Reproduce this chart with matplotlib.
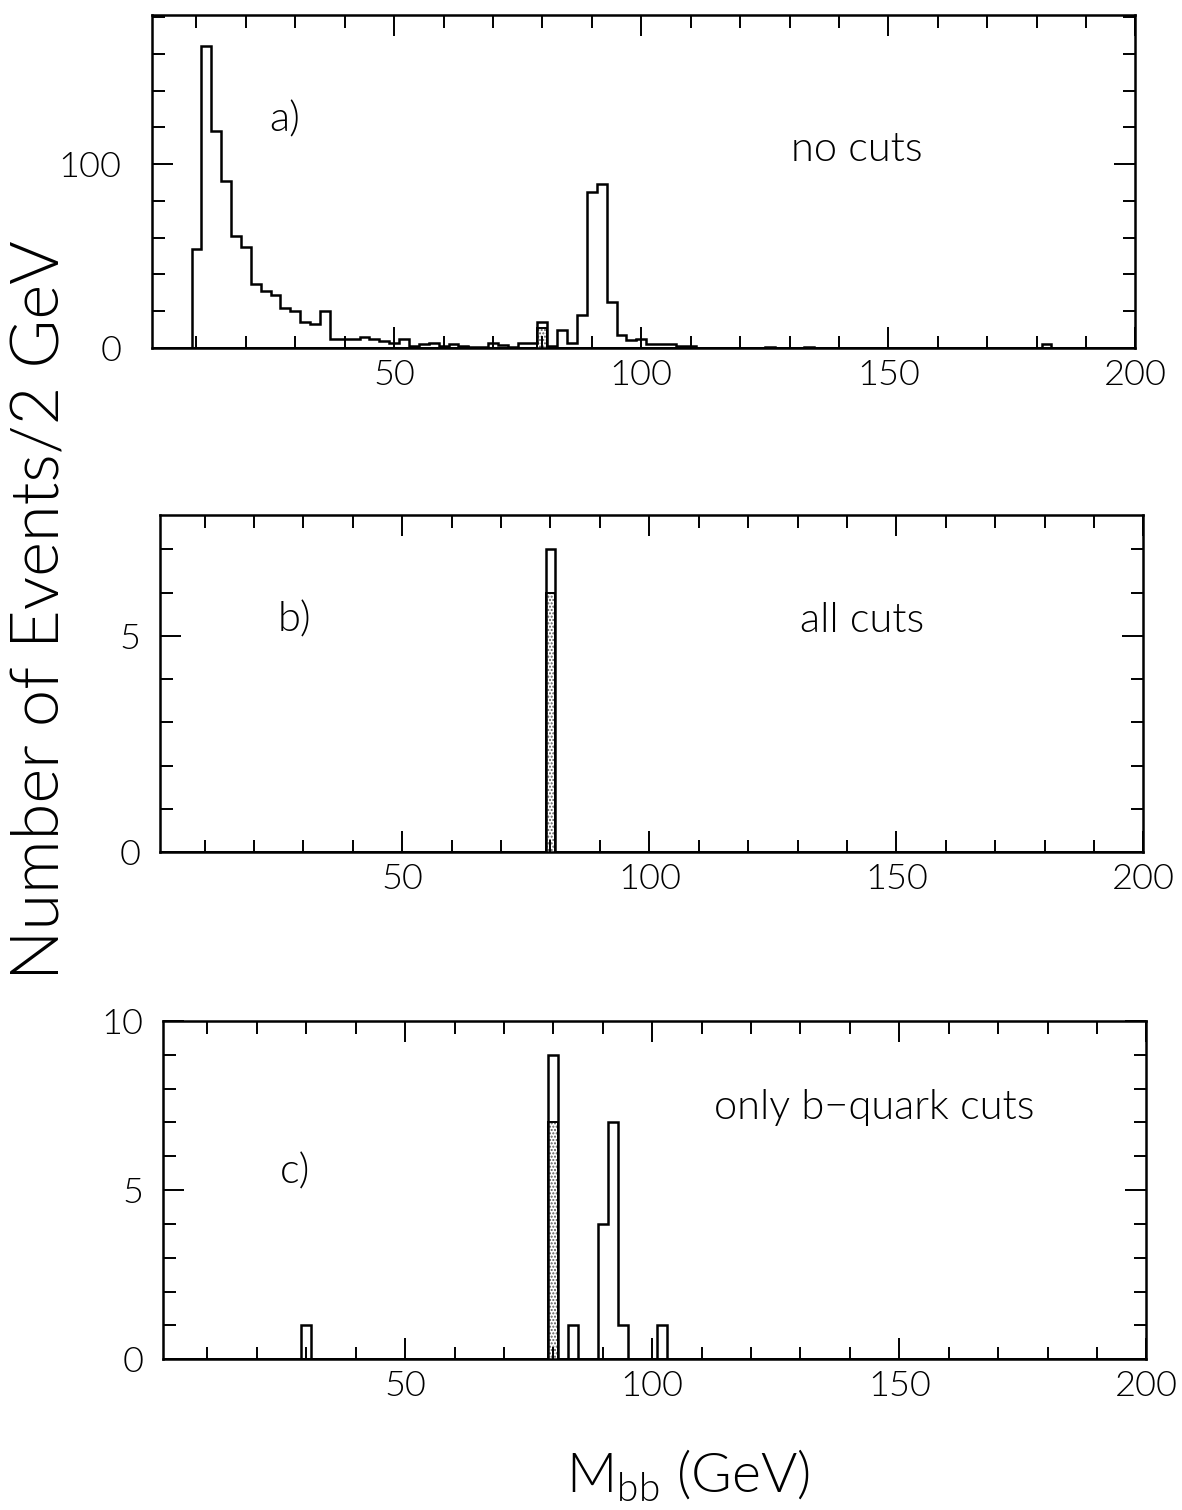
import numpy as np
import matplotlib
matplotlib.use("Agg")
import matplotlib.pyplot as plt

plt.rcParams['font.family'] = ['Lato', 'DejaVu Sans']
plt.rcParams['font.weight'] = 300
plt.rcParams['mathtext.fontset'] = 'custom'
plt.rcParams['mathtext.rm'] = 'Lato:weight=300'
plt.rcParams['hatch.linewidth'] = 1.0

# 2 GeV bins, low edges are odd numbers
edges = np.arange(1, 203, 2)

# panel a) no cuts: low edge of bin -> events
a_lo = [9, 11, 13, 15, 17, 19, 21, 23, 25, 27, 29, 31, 33, 35, 37, 39, 41, 43,
        45, 47, 49, 51, 53, 55, 57, 59, 61, 63, 65, 67, 69, 71, 73, 75, 77, 79,
        81, 83, 85, 87, 89, 91, 93, 95, 97, 99, 101, 103, 105, 107, 109, 125,
        133, 181]
a_n = [54, 164, 118, 91, 61, 55, 35, 31, 29, 22, 20, 14, 13, 20, 5, 5, 5, 6,
       5, 4, 3, 5, 1, 2, 2.5, 1, 2, 1, 0.5, 0.5, 3, 1.5, 0.5, 2.5, 2.5, 14,
       1, 10, 3, 18, 85, 89, 25, 7, 4.5, 5, 2, 2, 2, 1, 1, 0.5,
       0.5, 2]
a_shaded_lo = [79]
a_shaded_n = [11]

# panel b) all cuts
b_lo = [79]
b_n = [7]
b_shaded_lo = [79]
b_shaded_n = [6]

# panel c) only b-quark cuts
c_lo = [29, 79, 83, 89, 91, 93, 101]
c_n = [1, 9, 1, 4, 7, 1, 1]
c_shaded_lo = [79]
c_shaded_n = [7]

labels = ["a)", "b)", "c)"]
notes = ["no cuts", "all cuts", "only b\u2212quark cuts"]
y_tops = [181, 7.8, 10.0]
y_major = [[0, 100], [0, 5], [0, 5, 10]]
y_minor = [20, 1, 1]


def fill(lo, n):
    vals = np.zeros(len(edges) - 1)
    for l, v in zip(lo, n):
        vals[(l - 1) // 2] = v
    return vals


fig = plt.figure(figsize=(11.82, 15.10), dpi=100)

# axes boxes in figure fractions (left, bottom, width, height)
boxes = [(0.1286, 0.7695, 0.832, 0.2205),
         (0.1354, 0.4358, 0.832, 0.2232),
         (0.1379, 0.0998, 0.832, 0.2241)]
label_pos = [(0.135, 0.685), (0.137, 0.688), (0.134, 0.553)]
note_pos = [(0.717, 0.595), (0.714, 0.688), (0.7236, 0.743)]

data = [(a_lo, a_n, a_shaded_lo, a_shaded_n),
        (b_lo, b_n, b_shaded_lo, b_shaded_n),
        (c_lo, c_n, c_shaded_lo, c_shaded_n)]

for i, (lo, n, slo, sn) in enumerate(data):
    ax = fig.add_axes(boxes[i])
    total = fill(lo, n)
    shaded = fill(slo, sn)
    ax.stairs(shaded, edges, fill=True, facecolor='white', edgecolor='0.35',
              hatch='.....', linewidth=0)
    ax.stairs(shaded, edges, color='black', linewidth=1.4)
    ax.stairs(total, edges, color='black', linewidth=1.8)

    ax.set_xlim(1, 200)
    ax.set_ylim(0, y_tops[i])
    ax.set_xticks([50, 100, 150, 200])
    ax.set_xticks(np.arange(10, 200, 10), minor=True)
    ax.set_yticks(y_major[i])
    ax.set_yticks(np.arange(0, y_tops[i], y_minor[i]), minor=True)
    ax.tick_params(which='both', direction='in', top=True, right=True,
                   width=1.4, labelsize=26, labelcolor='black')
    ax.tick_params(which='major', length=15)
    ax.tick_params(which='minor', length=9)
    ax.tick_params(axis='x', pad=8)
    ax.tick_params(axis='y', pad=22 if i == 0 else 14)
    for s in ax.spines.values():
        s.set_linewidth(1.8)

    ax.text(*label_pos[i], labels[i], transform=ax.transAxes, fontsize=30,
            ha='center', va='center', color='black')
    ax.text(*note_pos[i], notes[i], transform=ax.transAxes, fontsize=30,
            ha='center', va='center', color='black')

fig.text(0.0355, 0.596, "Number of Events/2 GeV", rotation=90, fontsize=48,
         ha='center', va='center', color='black')
fig.text(0.582, 0.023, r"M$_{\mathrm{bb}}$ (GeV)", fontsize=40,
         ha='center', va='center', color='black')

fig.savefig("out.png", dpi=100)
